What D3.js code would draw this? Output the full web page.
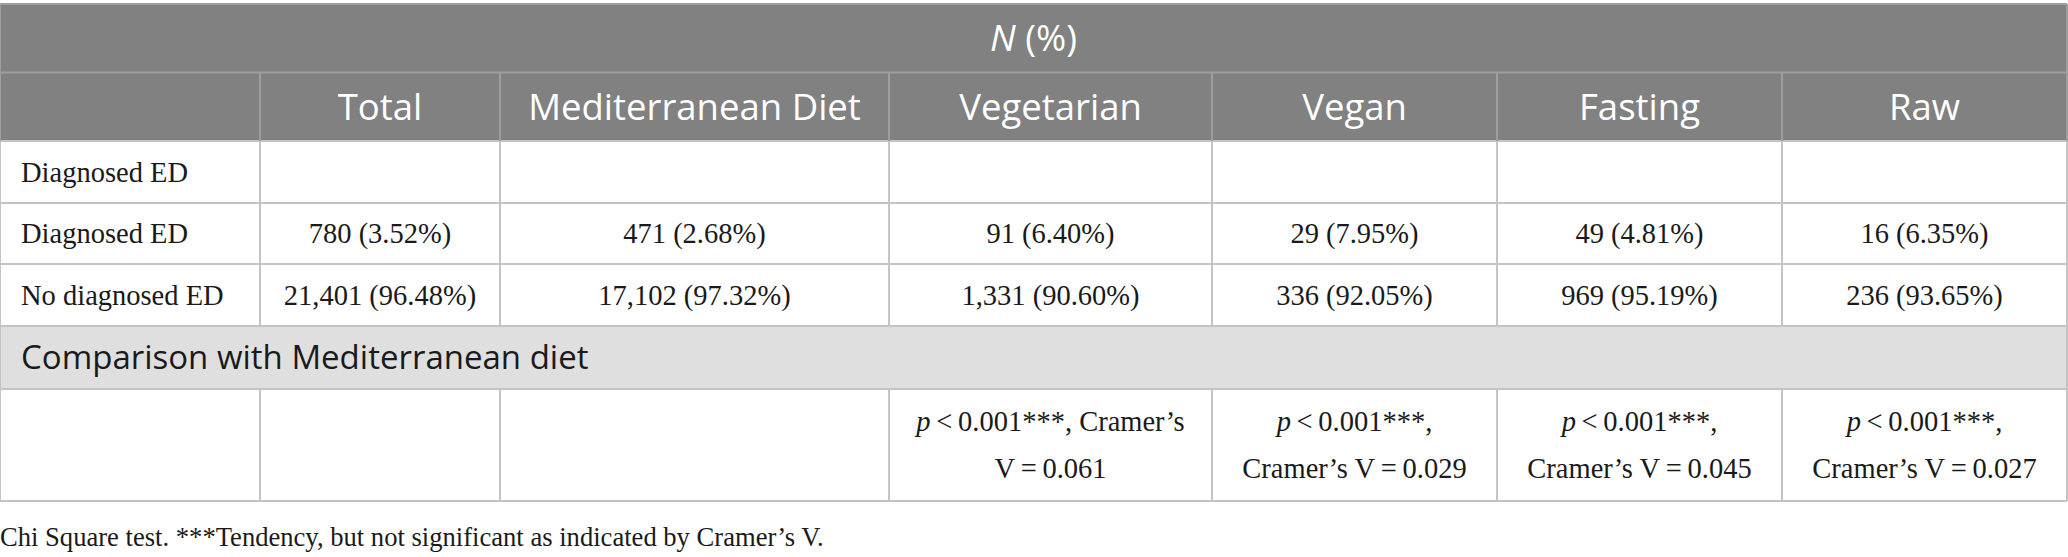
<!DOCTYPE html>
<html>
<head>
<meta charset="utf-8">
<script src="https://cdn.jsdelivr.net/npm/d3@7/dist/d3.min.js"></script>
<style>
	html, body { margin: 0; padding: 0; background: #fff; }
	svg { display: block; }
</style>
</head>
<body>
<div id="table-container"></div>
<script>
// Table content
const title = 'N (%)';
const columns = ['Total', 'Mediterranean Diet', 'Vegetarian', 'Vegan', 'Fasting', 'Raw'];
const rowLabels = ['Diagnosed ED', 'Diagnosed ED', 'No diagnosed ED'];
const diagnosedN = [780, 471, 91, 29, 49, 16];
const diagnosedPct = [3.52, 2.68, 6.40, 7.95, 4.81, 6.35];
const noDiagnosedN = [21401, 17102, 1331, 336, 969, 236];
const noDiagnosedPct = [96.48, 97.32, 90.60, 92.05, 95.19, 93.65];
const comparisonLabel = 'Comparison with Mediterranean diet';
const pValues = [null, null, 0.001, 0.001, 0.001, 0.001];
const cramersV = [null, null, 0.061, 0.029, 0.045, 0.027];
const footnote = 'Chi Square test. ***Tendency, but not significant as indicated by Cramer\u2019s V.';

function Table() {
	var attrs = {
		svgWidth: 2068,
		svgHeight: 557,
		container: '#table-container',
		// column edges and row heights of the layout
		colEdges: [0, 260, 500, 889, 1212, 1497, 1782, 2067],
		rowHeights: [68.5, 68.5, 62, 61, 62, 63, 112],
		top: 4,
		headerFill: '#808180',
		headerLine: '#9d9e9d',
		bandFill: '#e0dfe0',
		gridLine: '#c4c4c4',
		sansFont: '"Open Sans", "Noto Sans", sans-serif',
		serifFont: '"Liberation Serif", "DejaVu Serif", serif',
		textFill: '#1a1a1a',
		headerSize: 36.5,
		bandSize: 33,
		bodySize: 28.5,
		cellPad: 20
	};

	var main = function () {
		var container = d3.select(attrs.container);
		var svg = container.append('svg')
			.attr('width', attrs.svgWidth)
			.attr('height', attrs.svgHeight);

		var fmt = d3.format(',');
		var pct = d3.format('.2f');

		var nCols = columns.length + 1;
		var x = i => attrs.colEdges[i];
		var w = i => attrs.colEdges[i + 1] - attrs.colEdges[i];
		var rowTops = [attrs.top];
		attrs.rowHeights.forEach(h => rowTops.push(rowTops[rowTops.length - 1] + h));
		var left = attrs.colEdges[0], right = attrs.colEdges[nCols];

		// Backgrounds
		svg.append('rect')
			.attr('x', left).attr('y', rowTops[0])
			.attr('width', right - left).attr('height', rowTops[2] - rowTops[0])
			.attr('fill', attrs.headerFill);
		svg.append('rect')
			.attr('x', left).attr('y', rowTops[5])
			.attr('width', right - left).attr('height', rowTops[6] - rowTops[5])
			.attr('fill', attrs.bandFill);

		// Title row
		svg.append('text')
			.attr('x', (left + right) / 2)
			.attr('y', (rowTops[0] + rowTops[1]) / 2)
			.attr('dy', '0.35em')
			.attr('text-anchor', 'middle')
			.attr('font-family', attrs.sansFont)
			.attr('font-size', attrs.headerSize)
			.attr('fill', '#fff')
			.html('<tspan font-style="italic">N</tspan> (%)');

		// Column headers
		svg.append('g').selectAll('text')
			.data(columns)
			.join('text')
			.attr('x', (d, i) => x(i + 1) + w(i + 1) / 2)
			.attr('y', (rowTops[1] + rowTops[2]) / 2)
			.attr('dy', '0.35em')
			.attr('text-anchor', 'middle')
			.attr('font-family', attrs.sansFont)
			.attr('font-size', attrs.headerSize)
			.attr('fill', '#fff')
			.text(d => d);

		// Body rows
		var bodyRows = [
			{ label: rowLabels[0], cells: columns.map(() => '') },
			{ label: rowLabels[1], cells: diagnosedN.map((d, i) => fmt(d) + ' (' + pct(diagnosedPct[i]) + '%)') },
			{ label: rowLabels[2], cells: noDiagnosedN.map((d, i) => fmt(d) + ' (' + pct(noDiagnosedPct[i]) + '%)') }
		];

		bodyRows.forEach(function (row, r) {
			var cy = (rowTops[r + 2] + rowTops[r + 3]) / 2;
			var g = svg.append('g')
				.attr('font-family', attrs.serifFont)
				.attr('font-size', attrs.bodySize)
				.attr('fill', attrs.textFill);
			g.append('text')
				.attr('x', x(0) + 21)
				.attr('y', cy)
				.attr('dy', '0.35em')
				.text(row.label);
			g.selectAll('text.cell')
				.data(row.cells)
				.join('text')
				.attr('class', 'cell')
				.attr('x', (d, i) => x(i + 1) + w(i + 1) / 2)
				.attr('y', cy)
				.attr('dy', '0.35em')
				.attr('text-anchor', 'middle')
				.text(d => d);
		});

		// Comparison band
		svg.append('text')
			.attr('x', x(0) + 21)
			.attr('y', (rowTops[5] + rowTops[6]) / 2)
			.attr('dy', '0.35em')
			.attr('font-family', attrs.sansFont)
			.attr('font-size', attrs.bandSize)
			.attr('fill', attrs.textFill)
			.text(comparisonLabel);

		// Test results, wrapped inside each cell
		var thin = '\u2009';
		var testCells = pValues.map(function (p, i) {
			if (p === null) return null;
			return [
				{ italic: 'p', rest: thin + '<' + thin + p.toFixed(3) + '***,' },
				{ rest: 'Cramer\u2019s' },
				{ rest: 'V' + thin + '=' + thin + cramersV[i].toFixed(3) }
			];
		});

		var measure = svg.append('text')
			.attr('font-family', attrs.serifFont)
			.attr('font-size', attrs.bodySize)
			.attr('visibility', 'hidden');
		function wordWidth(word) {
			measure.text((word.italic || '') + word.rest);
			return measure.node().getComputedTextLength();
		}
		var spaceWidth = (function () {
			measure.text('a a');
			var a = measure.node().getComputedTextLength();
			measure.text('aa');
			return a - measure.node().getComputedTextLength();
		})();

		var lineGap = 47;
		var pTop = rowTops[6], pBottom = rowTops[7];
		testCells.forEach(function (words, i) {
			if (!words) return;
			var maxW = w(i + 1) - 2 * attrs.cellPad;
			var lines = [[]], lineW = 0;
			words.forEach(function (word) {
				var ww = wordWidth(word);
				var cur = lines[lines.length - 1];
				if (cur.length && lineW + spaceWidth + ww > maxW) {
					lines.push([word]);
					lineW = ww;
				} else {
					lineW += (cur.length ? spaceWidth : 0) + ww;
					cur.push(word);
				}
			});
			var cy = (pTop + pBottom) / 2 - (lines.length - 1) * lineGap / 2;
			lines.forEach(function (line, li) {
				var t = svg.append('text')
					.attr('x', x(i + 1) + w(i + 1) / 2)
					.attr('y', cy + li * lineGap)
					.attr('dy', '0.35em')
					.attr('text-anchor', 'middle')
					.attr('font-family', attrs.serifFont)
					.attr('font-size', attrs.bodySize)
					.attr('fill', attrs.textFill);
				line.forEach(function (word, wi) {
					var prefix = wi ? ' ' : '';
					if (word.italic) {
						t.append('tspan').text(prefix);
						t.append('tspan').attr('font-style', 'italic').text(word.italic);
						t.append('tspan').text(word.rest);
					} else {
						t.append('tspan').text(prefix + word.rest);
					}
				});
			});
		});
		measure.remove();

		// Grid lines
		var grid = svg.append('g').attr('fill', 'none');
		// horizontal
		rowTops.forEach(function (y, r) {
			grid.append('line')
				.attr('x1', left).attr('x2', right)
				.attr('y1', y).attr('y2', y)
				.attr('stroke', r <= 1 ? attrs.headerLine : attrs.gridLine)
				.attr('stroke-width', 2);
		});
		// vertical: header row 2, body rows, test row
		var spans = [[1, 2, attrs.headerLine], [2, 5, attrs.gridLine], [6, 7, attrs.gridLine]];
		spans.forEach(function (s) {
			d3.range(nCols + 1).forEach(function (c) {
				var isEdge = c === 0 || c === nCols;
				if (s[0] === 1 && isEdge) return;
				grid.append('line')
					.attr('x1', x(c)).attr('x2', x(c))
					.attr('y1', rowTops[s[0]]).attr('y2', rowTops[s[1]])
					.attr('stroke', s[2])
					.attr('stroke-width', 2);
			});
		});
		// outer edges of the band and header
		[left, right].forEach(function (ex) {
			grid.append('line')
				.attr('x1', ex).attr('x2', ex)
				.attr('y1', rowTops[0]).attr('y2', rowTops[2])
				.attr('stroke', attrs.headerLine).attr('stroke-width', 2);
			grid.append('line')
				.attr('x1', ex).attr('x2', ex)
				.attr('y1', rowTops[5]).attr('y2', rowTops[6])
				.attr('stroke', attrs.gridLine).attr('stroke-width', 2);
		});

		// Footnote
		svg.append('text')
			.attr('x', 0)
			.attr('y', 537)
			.attr('dy', '0.35em')
			.attr('font-family', attrs.serifFont)
			.attr('font-size', 26.6)
			.attr('fill', attrs.textFill)
			.text(footnote);
	};

	main.render = function () {
		main();
		return main;
	};

	return main;
}

Table().render();
</script>
</body>
</html>
